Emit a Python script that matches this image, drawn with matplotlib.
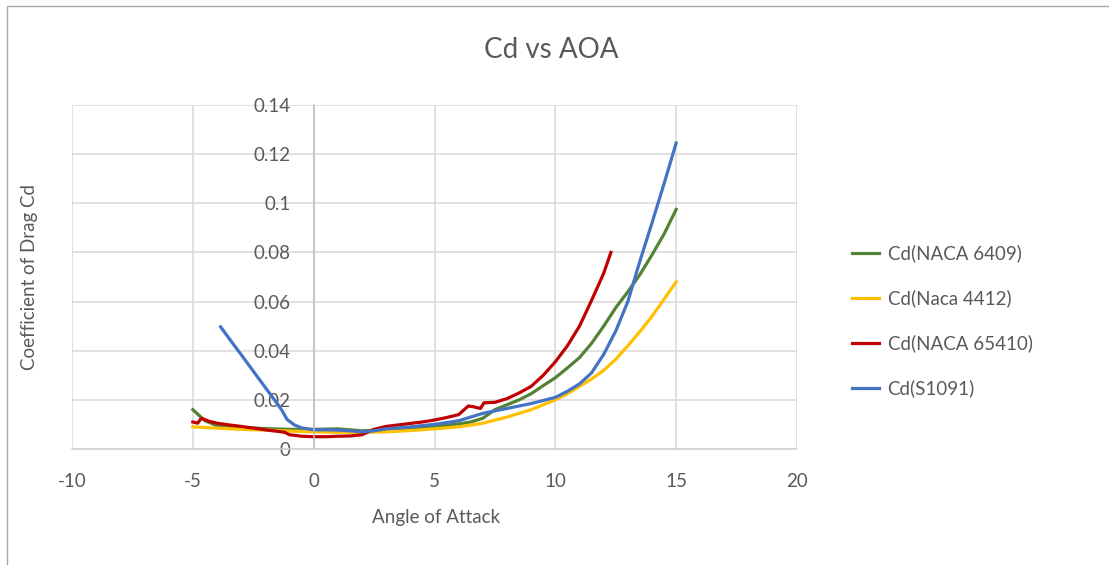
import matplotlib.pyplot as plt
from matplotlib.patches import Rectangle

# data
x_6409 = [-5, -4.5, -4, -3, -2, -1, 0, 1, 1.5, 2, 3, 4, 5, 6, 6.5, 7, 7.5, 8, 8.5, 9,
          9.5, 10, 10.5, 11, 11.5, 12, 12.5, 13, 13.5, 14, 14.5, 15]
cd_6409 = [0.016, 0.0115, 0.0095, 0.0088, 0.0083, 0.0080, 0.0080, 0.0082, 0.0078, 0.0074,
           0.0078, 0.0085, 0.0092, 0.0102, 0.0110, 0.0125, 0.0160, 0.0180, 0.0200, 0.0225,
           0.0258, 0.0290, 0.0330, 0.0372, 0.0430, 0.0500, 0.0575, 0.0640, 0.0710, 0.0790,
           0.0875, 0.0975]

x_4412 = [-5, -4, -3, -2, -1, 0, 1, 2, 3, 4, 5, 6, 7, 8, 9, 10, 10.5, 11, 11.5, 12,
          12.5, 13, 13.5, 14, 14.5, 15]
cd_4412 = [0.0090, 0.0085, 0.0080, 0.0077, 0.0073, 0.0070, 0.0068, 0.0068, 0.0070, 0.0075,
           0.0082, 0.0090, 0.0105, 0.0130, 0.0160, 0.0200, 0.0225, 0.0255, 0.0285, 0.0320,
           0.0365, 0.0420, 0.0478, 0.0540, 0.0610, 0.0680]

x_65410 = [-5, -4.8, -4.65, -4.3, -4, -3.5, -3, -2.5, -2, -1.5, -1.2, -1, -0.5, 0, 0.5, 1,
           1.5, 2, 2.5, 3, 3.5, 4, 4.5, 5, 5.5, 6, 6.4, 6.6, 6.9, 7.05, 7.5, 8, 8.5, 9,
           9.5, 10, 10.5, 11, 11.5, 12, 12.3]
cd_65410 = [0.011, 0.0105, 0.0125, 0.0112, 0.0105, 0.0098, 0.0092, 0.0085, 0.0078, 0.0072,
            0.0068, 0.0058, 0.0052, 0.0050, 0.0050, 0.0052, 0.0053, 0.0058, 0.0080, 0.0092,
            0.0098, 0.0104, 0.0110, 0.0118, 0.0128, 0.0140, 0.0175, 0.0172, 0.0165, 0.0188,
            0.0190, 0.0205, 0.0228, 0.0255, 0.0300, 0.0355, 0.0420, 0.0500, 0.0605, 0.0715,
            0.0800]

x_s1091 = [-3.85, -3.5, -3, -2.5, -2, -1.5, -1.3, -1.1, -0.8, -0.5, 0, 0.5, 1, 1.5, 2, 2.5,
           3, 3.5, 4, 4.5, 5, 6, 7, 7.5, 8, 9, 10, 10.5, 11, 11.5, 12, 12.5, 13, 13.5, 14,
           14.5, 15]
cd_s1091 = [0.0497, 0.045, 0.0384, 0.0317, 0.025, 0.0184, 0.0155, 0.0120, 0.0098, 0.0086,
            0.0078, 0.0078, 0.0077, 0.0074, 0.0070, 0.0074, 0.0082, 0.0086, 0.0090, 0.0095,
            0.0100, 0.0115, 0.0145, 0.0155, 0.0165, 0.0185, 0.0210, 0.0235, 0.0265, 0.0310,
            0.0385, 0.0480, 0.0600, 0.0765, 0.0920, 0.1080, 0.1245]

txt = '#595959'
plt.rcParams['font.family'] = ['Lato', 'DejaVu Sans']
plt.rcParams['axes.unicode_minus'] = False

fig = plt.figure(figsize=(11.09, 5.65), dpi=100)
ax = fig.add_axes([72/1109, 1-449/565, (797-72)/1109, (449-105)/565])

ax.plot(x_6409, cd_6409, color='#548235', lw=2.3, label='Cd(NACA 6409)')
ax.plot(x_4412, cd_4412, color='#FFC000', lw=2.3, label='Cd(Naca 4412)')
ax.plot(x_65410, cd_65410, color='#C00000', lw=2.3, label='Cd(NACA 65410)')
ax.plot(x_s1091, cd_s1091, color='#4472C4', lw=2.3, label='Cd(S1091)')

ax.set_xlim(-10, 20)
ax.set_ylim(0, 0.14)
ax.set_xticks([-10, -5, 0, 5, 10, 15, 20])
ax.set_yticks([0, 0.02, 0.04, 0.06, 0.08, 0.1, 0.12, 0.14])
ax.set_yticklabels(['0', '0.02', '0.04', '0.06', '0.08', '0.1', '0.12', '0.14'])
ax.grid(True, color='#D9D9D9', lw=1.1)
ax.set_axisbelow(True)

for s in ['top', 'right']:
    ax.spines[s].set_visible(False)
ax.spines['left'].set_position(('data', 0))
ax.spines['left'].set_color('#BFBFBF')
ax.spines['left'].set_linewidth(1.1)
ax.spines['bottom'].set_color('#D0D0D0')
ax.spines['bottom'].set_linewidth(1.1)
ax.tick_params(axis='y', length=0, pad=16.5, labelsize=13.5, labelcolor=txt)
ax.tick_params(axis='x', length=0, pad=17, labelsize=13.5, labelcolor=txt)

fig.text(0.497, 1-50/565, 'Cd vs AOA', ha='center', va='center', fontsize=20, color=txt)
fig.text(436/1109, 1-518/565, 'Angle of Attack', ha='center', va='center', fontsize=13.5, color=txt)
fig.text(30/1109, 1-277/565, 'Coefficient of Drag Cd', ha='center', va='center',
         rotation=90, fontsize=13.5, color=txt)

leg = fig.legend(loc='center left', bbox_to_anchor=(852/1109, 1-321/565), frameon=False,
                 fontsize=13.5, handlelength=1.45, handletextpad=0.45, labelspacing=1.45,
                 borderpad=0, borderaxespad=0)
for t in leg.get_texts():
    t.set_color(txt)

fig.patches.append(Rectangle((7/1109, -0.05), 1.1, 1.05-6/565, transform=fig.transFigure,
                             fill=False, edgecolor='#A6A6A6', lw=1))

fig.savefig('out.png', dpi=100)
